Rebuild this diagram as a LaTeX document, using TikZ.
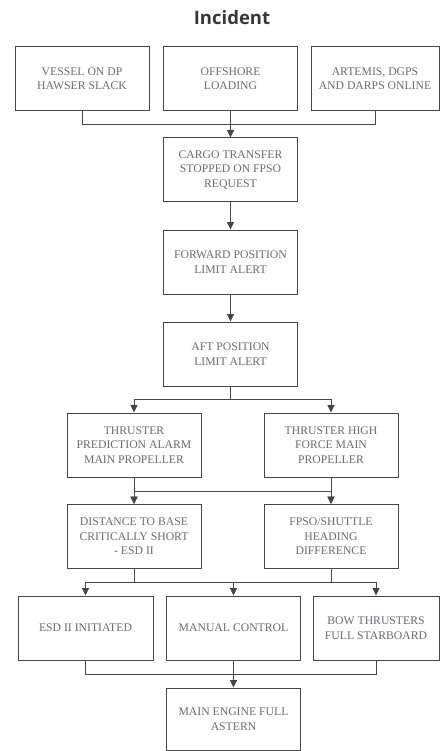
\documentclass[tikz,border=0pt]{standalone}
\usepackage{fontspec}
\setmainfont{Liberation Serif}
\newfontfamily\titlefont{Open Sans}
\usepackage{tikz}
\usetikzlibrary{
  arrows.meta,  % 三角箭头
  positioning   % 节点相对定位
}

\definecolor{linegray}{RGB}{68,70,74}
\definecolor{textgray}{RGB}{100,108,118}
\definecolor{titlegray}{RGB}{55,55,58}

\tikzset{
  evbox/.style={draw=linegray, line width=1pt, minimum width=134pt,
    minimum height=64pt, align=center, text=textgray, inner sep=2pt,
    font=\fontsize{11.7}{14.5}\selectfont},
  link/.style={draw=linegray, line width=1pt},
}

\begin{document}
\begin{tikzpicture}[x=1pt, y=-1pt, >={Triangle[length=7.5pt,width=7pt]}]
    \useasboundingbox (0,0) rectangle (440,751);

    % 标题
    \node[font=\titlefont\bfseries\fontsize{18.5}{20}\selectfont, text=titlegray] (title) at (232,18) {Incident};

    % --- 第一行：初始状态 ---
    \node[evbox] (vessel) at (82,78.5) {VESSEL ON DP\\HAWSER SLACK};
    \node[evbox] (offshore) at (230.5,78.5) {OFFSHORE\\LOADING};
    \node[evbox, minimum width=128pt] (artemis) at (375,78.5) {ARTEMIS, DGPS\\AND DARPS ONLINE};

    % --- 中间链 ---
    \node[evbox] (cargo) at (230.5,170) {CARGO TRANSFER\\STOPPED ON FPSO\\REQUEST};
    \node[evbox] (fwd) at (230.5,262) {FORWARD POSITION\\LIMIT ALERT};
    \node[evbox] (aft) at (230.5,354) {AFT POSITION\\LIMIT ALERT};

    % --- 两列分支 ---
    \node[evbox] (predict) at (134,445) {THRUSTER\\PREDICTION ALARM\\MAIN PROPELLER};
    \node[evbox] (force) at (331,445) {THRUSTER HIGH\\FORCE MAIN\\PROPELLER};
    \node[evbox] (dist) at (134,536.5) {DISTANCE TO BASE\\CRITICALLY SHORT\\- ESD II};
    \node[evbox] (heading) at (331,536.5) {FPSO/SHUTTLE\\HEADING\\DIFFERENCE};

    % --- 第三行：动作 ---
    \node[evbox, minimum width=135pt] (esd) at (85.5,628) {ESD II INITIATED};
    \node[evbox] (manual) at (233.5,628) {MANUAL CONTROL};
    \node[evbox, minimum width=126pt] (bow) at (376,628) {BOW THRUSTERS\\FULL STARBOARD};
    \node[evbox, minimum height=62pt] (astern) at (233.5,719) {MAIN ENGINE FULL\\ASTERN};

    % 汇流点
    \coordinate (bus1) at (230.5,125);
    \coordinate (bus2) at (230.5,399);
    \coordinate (bus3) at (233.5,582);
    \coordinate (bus4) at (233.5,674);

    % 连线
    \draw[link] (vessel.south) |- (bus1);
    \draw[link] (artemis.south) |- (bus1);
    \draw[link, ->] (offshore.south) -- (cargo.north);
    \draw[link, ->] (cargo.south) -- (fwd.north);
    \draw[link, ->] (fwd.south) -- (aft.north);

    \draw[link] (aft.south) -- (bus2);
    \draw[link, ->] (bus2) -| (predict.north);
    \draw[link, ->] (bus2) -| (force.north);

    \draw[link, ->] (predict.south) -- (dist.north);
    \draw[link, ->] (force.south) -- (heading.north);
    \draw[link, ->] (predict.south) -- ++(0,14) -| (heading.north);
    \draw[link, ->] (force.south) -- ++(0,14) -| (dist.north);

    \draw[link] (dist.south) |- (bus3);
    \draw[link] (heading.south) |- (bus3);
    \draw[link, ->] (bus3) -| (esd.north);
    \draw[link, ->] (bus3) -| (bow.north);
    \draw[link, ->] (bus3) -- (manual.north);

    \draw[link] (esd.south) |- (bus4);
    \draw[link] (bow.south) |- (bus4);
    \draw[link, ->] (manual.south) -- (astern.north);

\end{tikzpicture}
\end{document}
